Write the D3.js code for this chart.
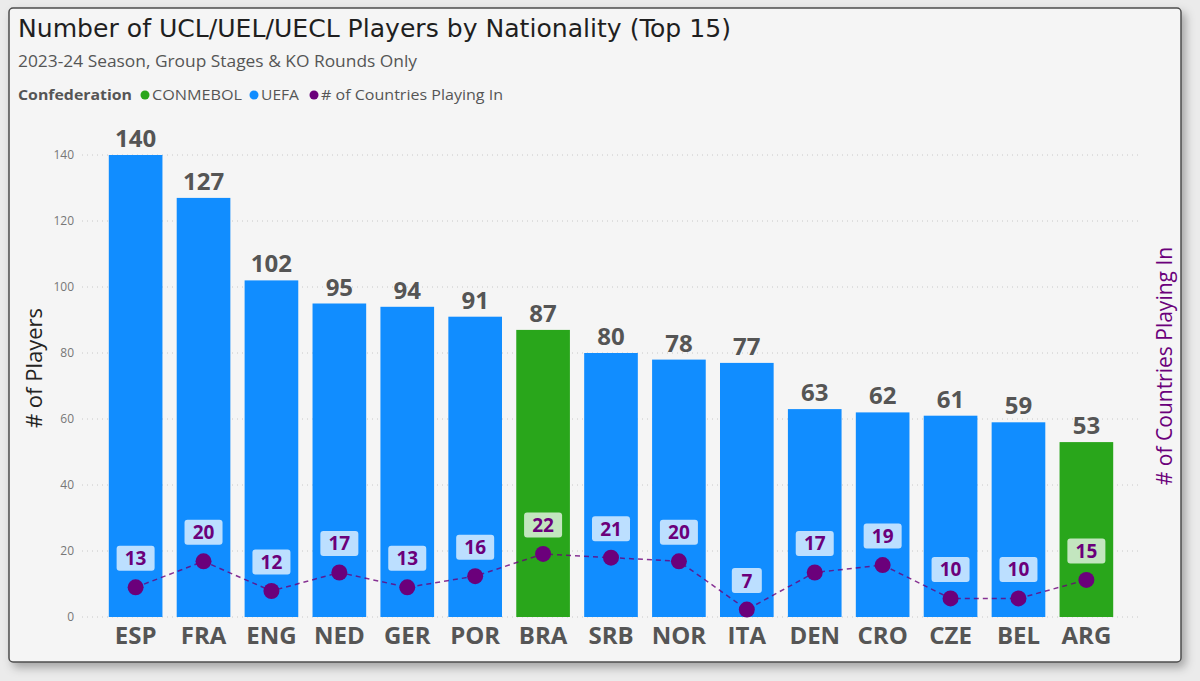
<!DOCTYPE html>
<html>
<head>
<meta charset="utf-8">
<script src="https://cdn.jsdelivr.net/npm/d3@7"></script>
<style>
  body { margin: 0; background: #ebebeb; }
  svg { display: block; }
</style>
</head>
<body>
<svg id="chart" width="1200" height="681"></svg>
<script>
// data
const nations = ['ESP', 'FRA', 'ENG', 'NED', 'GER', 'POR', 'BRA', 'SRB', 'NOR', 'ITA', 'DEN', 'CRO', 'CZE', 'BEL', 'ARG']
const players = [140, 127, 102, 95, 94, 91, 87, 80, 78, 77, 63, 62, 61, 59, 53]
const countriesIn = [13, 20, 12, 17, 13, 16, 22, 21, 20, 7, 17, 19, 10, 10, 15]
const confed = ['UEFA', 'UEFA', 'UEFA', 'UEFA', 'UEFA', 'UEFA', 'CONMEBOL', 'UEFA', 'UEFA', 'UEFA', 'UEFA', 'UEFA', 'UEFA', 'UEFA', 'CONMEBOL']
const yTicks = [0, 20, 40, 60, 80, 100, 120, 140]

const colors = { CONMEBOL: '#29a61b', UEFA: '#118dff' }
const purple = '#6b007b'
const font = "'Open Sans', 'Noto Sans', sans-serif"

const svg = d3.select('#chart')
const data = nations.map((n, i) => ({ n: n, p: players[i], c: countriesIn[i], conf: confed[i] }))

// frame + shadow
const defs = svg.append('defs')
const f = defs.append('filter').attr('id', 'shadow').attr('x', '-5%').attr('y', '-5%').attr('width', '110%').attr('height', '115%')
f.append('feDropShadow').attr('dx', 4).attr('dy', 5).attr('stdDeviation', 5).attr('flood-color', '#000').attr('flood-opacity', 0.3)

svg.append('rect')
    .attr('x', 9).attr('y', 8).attr('width', 1172).attr('height', 654).attr('rx', 4)
    .attr('fill', '#f5f5f5').attr('stroke', '#4d4d4d').attr('stroke-width', 1.5)
    .attr('filter', 'url(#shadow)')

// titles
svg.append('text').attr('x', 18).attr('y', 37)
    .attr('font-family', "'DejaVu Sans Condensed', 'DejaVu Sans', sans-serif").attr('font-size', 25)
    .attr('fill', '#1f1f1f').attr('textLength', 713).attr('lengthAdjust', 'spacingAndGlyphs')
    .text('Number of UCL/UEL/UECL Players by Nationality (Top 15)')

svg.append('text').attr('x', 18).attr('y', 67)
    .attr('font-family', font).attr('font-size', 16).attr('fill', '#555')
    .attr('textLength', 399).attr('lengthAdjust', 'spacingAndGlyphs')
    .text('2023-24 Season, Group Stages & KO Rounds Only')

// legend
const leg = svg.append('g').attr('font-family', font).attr('font-size', 15)
leg.append('text').attr('x', 18).attr('y', 100).attr('font-weight', 'bold').attr('fill', '#555')
    .attr('textLength', 114).attr('lengthAdjust', 'spacingAndGlyphs').text('Confederation')
const legItems = [
    { label: 'CONMEBOL', color: colors.CONMEBOL, x: 145, w: 90 },
    { label: 'UEFA', color: colors.UEFA, x: 254, w: 38 },
    { label: '# of Countries Playing In', color: purple, x: 314, w: 182 }
]
legItems.forEach(d => {
    leg.append('circle').attr('cx', d.x).attr('cy', 95).attr('r', 4.5).attr('fill', d.color)
    leg.append('text').attr('x', d.x + 7).attr('y', 100).attr('fill', '#555')
        .attr('textLength', d.w).attr('lengthAdjust', 'spacingAndGlyphs').text(d.label)
})

// scales
const x = d3.scaleBand().domain(nations).range([102, 1120]).paddingInner(0.21).paddingOuter(0.1)
const y = d3.scaleLinear().domain([0, 140]).range([617, 155])
const y2 = d3.scaleLinear().domain([5, 129.5]).range([617, 155])

// gridlines + y axis
const grid = svg.append('g')
grid.selectAll('line').data(yTicks).join('line')
    .attr('x1', 82).attr('x2', 1140)
    .attr('y1', d => y(d)).attr('y2', d => y(d))
    .attr('stroke', '#c8c8c8').attr('stroke-dasharray', '1,4')

const yAxis = svg.append('g').attr('transform', 'translate(74,0)')
    .call(d3.axisLeft(y).tickValues(yTicks).tickSize(0).tickPadding(0))
yAxis.select('.domain').remove()
yAxis.selectAll('text').attr('font-family', font).attr('font-size', 12).attr('fill', '#777')

svg.append('text')
    .attr('transform', 'translate(42,368) rotate(-90)')
    .attr('text-anchor', 'middle').attr('font-family', font).attr('font-size', 22).attr('fill', '#252423')
    .text('# of Players')

svg.append('text')
    .attr('transform', 'translate(1172,366) rotate(-90)')
    .attr('text-anchor', 'middle').attr('font-family', font).attr('font-size', 21).attr('fill', purple)
    .text('# of Countries Playing In')

// bars
svg.append('g').selectAll('rect').data(data).join('rect')
    .attr('x', d => x(d.n))
    .attr('y', d => y(d.p))
    .attr('width', x.bandwidth())
    .attr('height', d => y(0) - y(d.p))
    .attr('fill', d => colors[d.conf])

svg.append('g').selectAll('text').data(data).join('text')
    .attr('x', d => x(d.n) + x.bandwidth() / 2)
    .attr('y', d => y(d.p) - 8)
    .attr('text-anchor', 'middle')
    .attr('font-family', font).attr('font-size', 24).attr('font-weight', 'bold').attr('fill', '#555')
    .text(d => d.p)

// x axis labels
const xAxis = svg.append('g').attr('transform', `translate(0,${y(0)})`)
    .call(d3.axisBottom(x).tickSize(0).tickPadding(10))
xAxis.select('.domain').remove()
xAxis.selectAll('text').attr('font-family', font).attr('font-size', 24).attr('font-weight', 'bold').attr('fill', '#555')

// line + dots for # of countries
const line = d3.line().x(d => x(d.n) + x.bandwidth() / 2).y(d => y2(d.c))
svg.append('path').datum(data)
    .attr('d', line)
    .attr('fill', 'none').attr('stroke', purple).attr('stroke-opacity', 0.8)
    .attr('stroke-width', 1.5).attr('stroke-dasharray', '5,4')

svg.append('g').selectAll('circle').data(data).join('circle')
    .attr('cx', d => x(d.n) + x.bandwidth() / 2)
    .attr('cy', d => y2(d.c))
    .attr('r', 8)
    .attr('fill', purple)

// labels on the line
const lab = svg.append('g').selectAll('g').data(data).join('g')
    .attr('transform', d => `translate(${x(d.n) + x.bandwidth() / 2},${y2(d.c) - 29})`)
lab.append('rect')
    .attr('x', d => d.c < 10 ? -15 : -19).attr('y', -12.5)
    .attr('width', d => d.c < 10 ? 30 : 38).attr('height', 25).attr('rx', 3)
    .attr('fill', '#fff').attr('fill-opacity', 0.72)
lab.append('text')
    .attr('text-anchor', 'middle').attr('y', 7)
    .attr('font-family', font).attr('font-size', 19).attr('font-weight', 'bold').attr('fill', purple)
    .text(d => d.c)
</script>
</body>
</html>
